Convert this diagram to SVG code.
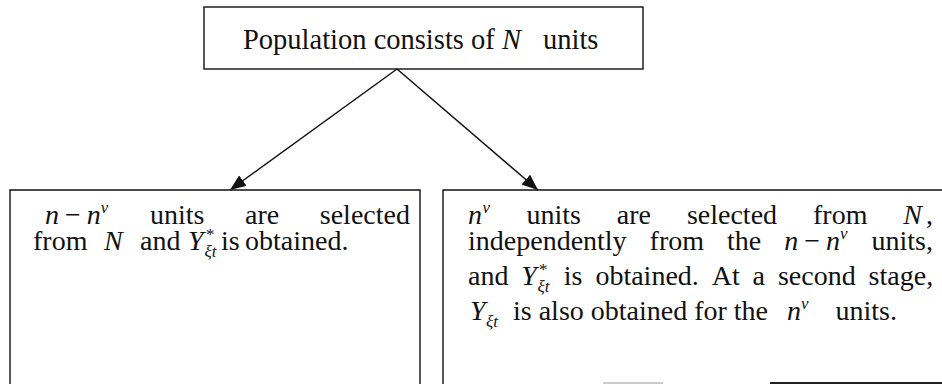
<svg xmlns="http://www.w3.org/2000/svg" width="942" height="384" viewBox="0 0 942 384">
<defs>
<marker id="ah" markerWidth="16" markerHeight="13" refX="16" refY="6.5" orient="auto" markerUnits="userSpaceOnUse">
<path d="M0,0 L16,6.5 L0,13 Z" fill="#111"/>
</marker>
</defs>
<style>
.box{fill:none;stroke:#111;stroke-width:1.4}
.t{font-family:"Liberation Serif","Times New Roman",serif;font-size:28px;fill:#111}
.top{font-size:28.5px}
.i{font-style:italic}
.s{font-size:17px}
.edge{stroke:#111;stroke-width:1.5;fill:none;marker-end:url(#ah)}
.frag{stroke:#222;stroke-width:2}
.fragl{stroke:#bbb;stroke-width:1.5}
</style>
<rect width="942" height="384" fill="#fff"/>

<g id="connectors">
<line class="edge" x1="397" y1="69" x2="230" y2="190"/>
<line class="edge" x1="397" y1="69" x2="538" y2="190"/>
</g>

<g id="node-population">
<rect class="box" x="204" y="7" width="439" height="62"/>
<text class="t top" y="49"><tspan x="243">Population consists of</tspan><tspan x="502" class="i">N</tspan><tspan x="543">units</tspan></text>
</g>

<g id="node-left">
<path class="box" d="M10,384 V190 H420 V384"/>
<text class="t" y="224"><tspan x="45" class="i">n</tspan><tspan x="65">−</tspan><tspan x="86.8" class="i">n</tspan><tspan x="100.8" y="213" class="i s">v</tspan><tspan x="149.9" y="224">units</tspan><tspan x="245">are</tspan><tspan x="319.8">selected</tspan></text>
<text class="t" y="250"><tspan x="33">from</tspan><tspan x="104" class="i">N</tspan><tspan x="140">and</tspan><tspan x="188" class="i">Y</tspan><tspan x="206" y="240" class="s">*</tspan><tspan x="204.5" y="257" class="i s">ξt</tspan><tspan x="221" y="250">is</tspan><tspan x="245">obtained.</tspan></text>
</g>

<g id="node-right">
<path class="box" d="M443,384 V190 H942"/>
<line class="fragl" x1="603" y1="383" x2="663" y2="383"/>
<line class="frag" x1="770" y1="383" x2="942" y2="383"/>
<text class="t" y="224"><tspan x="468" class="i">n</tspan><tspan x="482.5" y="213" class="i s">v</tspan><tspan x="526.4" y="224">units</tspan><tspan x="616.8">are</tspan><tspan x="686.9">selected</tspan><tspan x="813">from</tspan><tspan x="903.3" class="i">N</tspan><tspan x="926">,</tspan></text>
<text class="t" y="250"><tspan x="468">independently</tspan><tspan x="649.6">from</tspan><tspan x="727">the</tspan><tspan x="784.2" class="i">n</tspan><tspan x="804.2">−</tspan><tspan x="826" class="i">n</tspan><tspan x="840" y="239" class="i s">v</tspan><tspan x="871.5" y="250">units,</tspan></text>
<text class="t" y="285"><tspan x="468">and</tspan><tspan x="521.3" class="i">Y</tspan><tspan x="539" y="275" class="s">*</tspan><tspan x="537.5" y="292" class="i s">ξt</tspan><tspan x="563.8" y="285">is</tspan><tspan x="595.4">obtained.</tspan><tspan x="711.7">At</tspan><tspan x="752.6">a</tspan><tspan x="777.9">second</tspan><tspan x="868.6">stage,</tspan></text>
<text class="t" y="320"><tspan x="470" class="i">Y</tspan><tspan x="486" y="327" class="i s">ξt</tspan><tspan x="513" y="320">is also obtained for the</tspan><tspan x="787" class="i">n</tspan><tspan x="801" y="309" class="i s">v</tspan><tspan x="835.5" y="320">units.</tspan></text>
</g>
</svg>
